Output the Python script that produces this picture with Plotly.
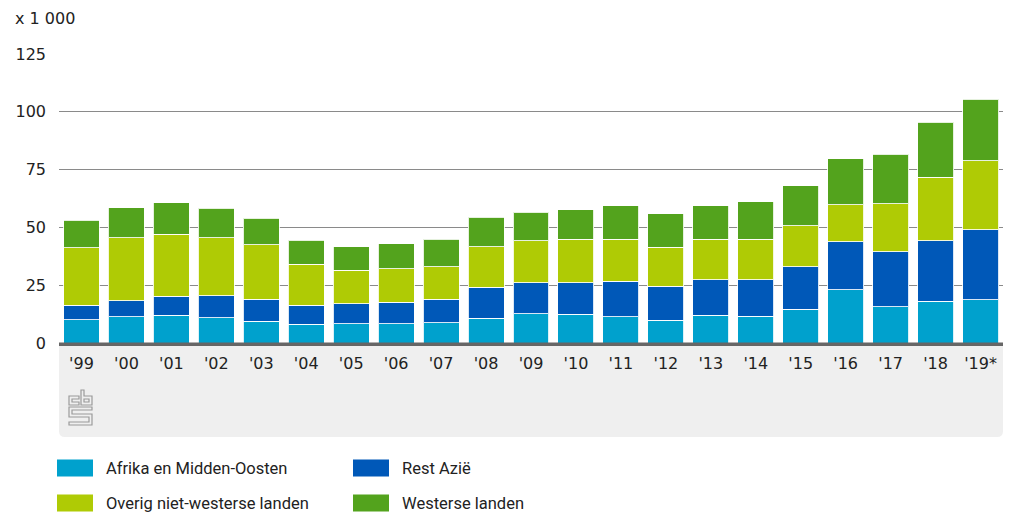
import plotly.graph_objects as go

years = ["'99", "'00", "'01", "'02", "'03", "'04", "'05", "'06", "'07", "'08", "'09",
         "'10", "'11", "'12", "'13", "'14", "'15", "'16", "'17", "'18", "'19*"]

afrika_mo = [10.1, 11.4, 11.9, 11.0, 9.4, 8.1, 8.4, 8.4, 8.7, 10.6, 12.7,
             12.4, 11.4, 9.8, 12.1, 11.6, 14.5, 23.1, 15.6, 18.1, 18.8]
rest_azie = [6.2, 6.8, 8.3, 9.5, 9.6, 8.2, 8.6, 9.3, 10.3, 13.5, 13.3,
             13.6, 15.3, 14.7, 15.3, 15.8, 18.4, 20.8, 23.8, 26.2, 30.1]
overig_nw = [25.0, 27.4, 26.9, 25.1, 23.6, 17.8, 14.5, 14.5, 13.9, 17.6, 18.2,
             18.9, 18.1, 16.9, 17.5, 17.5, 17.9, 16.0, 20.9, 27.4, 29.9]
westerse = [11.8, 13.0, 13.5, 12.6, 11.3, 10.4, 10.1, 10.8, 11.9, 12.8, 12.4,
            12.8, 14.5, 14.4, 14.4, 16.1, 17.3, 19.8, 21.4, 23.8, 26.7]

series_names = ["Afrika en Midden-Oosten", "Rest Azië", "Overig niet-westerse landen", "Westerse landen"]
series_values = [afrika_mo, rest_azie, overig_nw, westerse]
colors = ["#00a1cd", "#0058b8", "#afcb05", "#53a31d"]

y_ticks = [0, 25, 50, 75, 100, 125]

W, H = 1010, 515
L, R, T, B = 59, 7, 54, 172
PW = W - L - R
PH = H - T - B


def px(x):
    return (x - L) / PW


def py(y):
    return (H - B - y) / PH


fig = go.Figure()
for name, vals, col in zip(series_names, series_values, colors):
    fig.add_trace(go.Bar(x=years, y=vals, name=name, marker_color=col,
                         marker_line=dict(color="rgba(255,255,255,0.85)", width=1),
                         showlegend=False))

shapes = []
# light grey footer panel with rounded bottom corners
x0, x1, y0, y1, r = 59, 1003, 345, 437, 6
path = (f"M {px(x0)},{py(y0)} L {px(x1)},{py(y0)} L {px(x1)},{py(y1 - r)} "
        f"Q {px(x1)},{py(y1)} {px(x1 - r)},{py(y1)} L {px(x0 + r)},{py(y1)} "
        f"Q {px(x0)},{py(y1)} {px(x0)},{py(y1 - r)} Z")
shapes.append(dict(type="path", path=path, xref="paper", yref="paper",
                   fillcolor="#efefef", line=dict(width=0), layer="below"))
# baseline
shapes.append(dict(type="rect", xref="paper", yref="paper", x0=px(59), x1=px(1003),
                   y0=py(346), y1=py(342.5), fillcolor="#666666", line=dict(width=0)))


def logo_path(pts):
    s = "M " + " L ".join(f"{px(a)},{py(b)}" for a, b in pts) + " Z"
    return s


logo_parts = [
    [(79, 396), (69, 396), (69, 405), (79, 405), (79, 402), (72, 402), (72, 399), (79, 399)],
    [(81, 390), (84, 390), (84, 396), (92, 396), (92, 405), (81, 405)],
    [(84, 399), (89, 399), (89, 402), (84, 402)],
    [(69, 407), (92, 407), (92, 410), (72, 410), (72, 414), (92, 414), (92, 425), (69, 425),
     (69, 422), (89, 422), (89, 417), (69, 417)],
]
for p in logo_parts:
    shapes.append(dict(type="path", path=logo_path(p), xref="paper", yref="paper",
                       line=dict(color="#9a9a9a", width=1.2), fillcolor="rgba(0,0,0,0)"))

annotations = [dict(text="x 1 000", x=px(13), y=py(18), xref="paper", yref="paper",
                    xanchor="left", yanchor="middle", showarrow=False,
                    font=dict(family="DejaVu Sans", size=16, color="#222222"))]

legend_pos = [(57, 468), (353, 468), (57, 503), (353, 503)]
for (lx, ly), name, col in zip(legend_pos, series_names, colors):
    shapes.append(dict(type="rect", xref="paper", yref="paper", x0=px(lx), x1=px(lx + 36),
                       y0=py(ly + 8.5), y1=py(ly - 8.5), fillcolor=col, line=dict(width=0)))
    annotations.append(dict(text=name, x=px(lx + 47), y=py(ly), xref="paper", yref="paper",
                            xanchor="left", yanchor="middle", showarrow=False,
                            font=dict(family="Roboto", size=16.5, color="#222222")))

fig.update_layout(
    width=W, height=H, barmode="stack", bargap=0.2,
    margin=dict(l=L, r=R, t=T, b=B, autoexpand=False),
    paper_bgcolor="white", plot_bgcolor="white",
    shapes=shapes, annotations=annotations,
    font=dict(family="DejaVu Sans", size=16, color="#222222"),
    xaxis=dict(showgrid=False, ticks="", showline=False, ticklabelstandoff=9,
               tickfont=dict(family="DejaVu Sans", size=16, color="#222222")),
    yaxis=dict(range=[0, 125], tickvals=y_ticks, showgrid=True, gridcolor="#8a8a8a",
               gridwidth=1, zeroline=False, ticks="", ticklabelstandoff=12,
               tickfont=dict(family="DejaVu Sans", size=16, color="#222222")),
)

fig.write_html("out.html", config={"displayModeBar": False},
               post_script="document.body.style.margin='0px';")
